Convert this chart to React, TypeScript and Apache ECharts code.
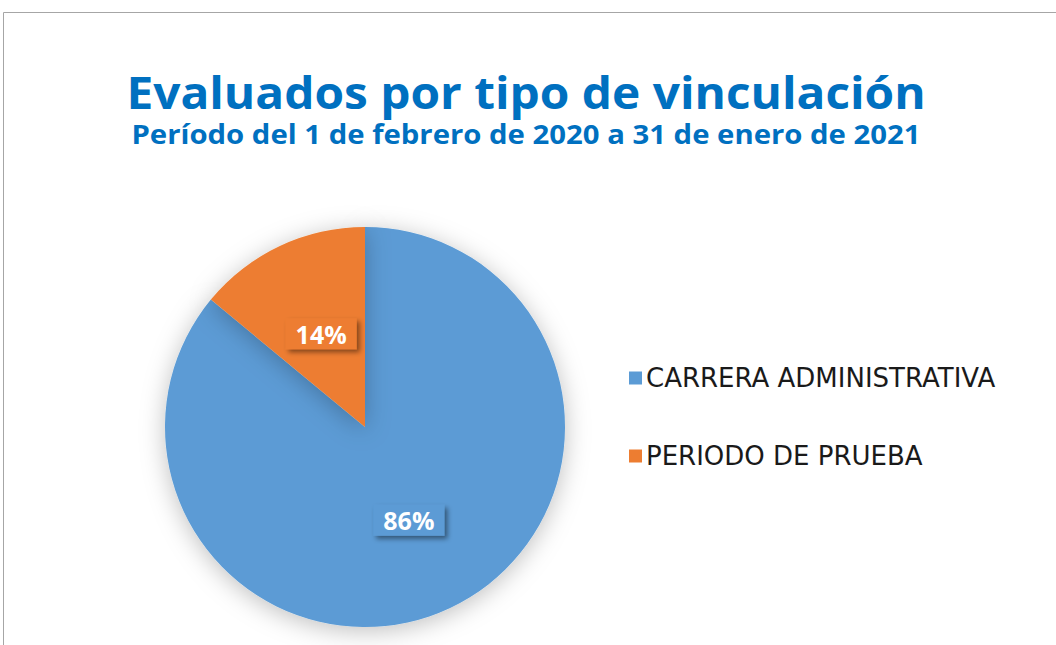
import React, { useEffect, useRef } from "react";
import * as echarts from "echarts";

const categories = ["CARRERA ADMINISTRATIVA", "PERIODO DE PRUEBA"];
const values = [86, 14];
const colors = ["#5B9BD5", "#ED7D31"];
const titleText = "Evaluados por tipo de vinculación";
const subtitleText = "Período del 1 de febrero de 2020 a 31 de enero de 2021";

export default function App() {
  const ref = useRef<HTMLDivElement>(null);
  useEffect(() => {
    const chart = echarts.init(ref.current!, undefined, { renderer: "svg" });
    chart.setOption({
      animation: false,
      backgroundColor: "#ffffff",
      graphic: [
        {
          type: "rect",
          shape: { x: 3.5, y: 12.5, width: 1200, height: 800 },
          style: { fill: "none", stroke: "#A6A6A6", lineWidth: 1 },
          silent: true,
        },
        {
          type: "text",
          x: 526,
          y: 114,
          scaleX: 1.087,
          style: {
            text: titleText,
            fill: "#0070C0",
            font: "bold 44px 'Open Sans'",
            textAlign: "center",
            textVerticalAlign: "bottom",
          },
        },
        {
          type: "text",
          x: 526,
          y: 147,
          scaleX: 1.086,
          style: {
            text: subtitleText,
            fill: "#0070C0",
            font: "bold 27px 'Open Sans'",
            textAlign: "center",
            textVerticalAlign: "bottom",
          },
        },
      ],
      legend: {
        orient: "vertical",
        left: 624,
        top: 360,
        itemWidth: 13,
        itemHeight: 13,
        itemGap: 52,
        icon: "rect",
        textStyle: {
          fontSize: 26,
          color: "#1a1a1a",
          fontFamily: "DejaVu Sans",
          padding: [0, 0, 0, -1],
        },
        data: categories,
      },
      series: [
        {
          type: "pie",
          center: [365, 427],
          radius: [0, 200],
          startAngle: 90,
          clockwise: true,
          data: categories.map((name, i) => ({
            name,
            value: values[i],
            itemStyle: { color: colors[i] },
            label: { backgroundColor: colors[i] },
          })),
          itemStyle: {
            shadowBlur: 25,
            shadowColor: "rgba(0,0,0,0.25)",
            shadowOffsetY: 4,
          },
          label: {
            position: "inside",
            formatter: "{d}%",
            color: "#ffffff",
            fontFamily: "Open Sans",
            fontWeight: "bold",
            fontSize: 25,
            padding: [4, 10, 2, 10],
            shadowColor: "rgba(0,0,0,0.45)",
            shadowBlur: 5,
            shadowOffsetX: 3,
            shadowOffsetY: 3,
          },
          labelLine: { show: false },
          emphasis: { disabled: true },
        },
      ],
    });
    return () => chart.dispose();
  }, []);
  return (
    <div
      ref={ref}
      style={{ position: "fixed", left: 0, top: 0, width: 1056, height: 645 }}
    />
  );
}
